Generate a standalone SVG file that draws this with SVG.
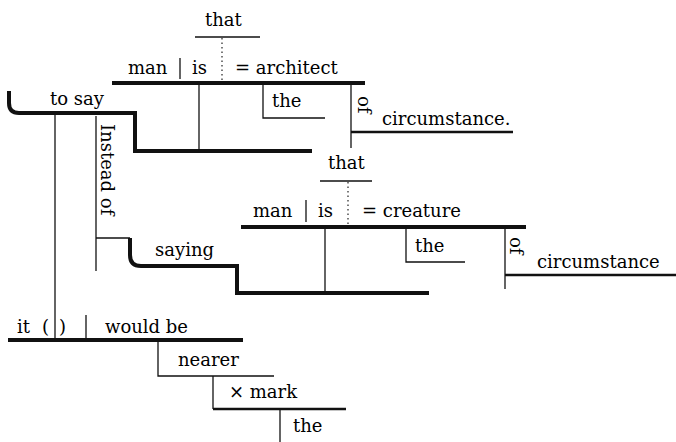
<svg xmlns="http://www.w3.org/2000/svg" width="676" height="442" viewBox="0 0 676 442">
<style>
text{font-family:"DejaVu Serif","Liberation Serif",serif;font-size:18px;fill:#000}
.thick{stroke:#111;stroke-width:4;fill:none}
.med{stroke:#111;stroke-width:2.5;fill:none}
.thin{stroke:#111;stroke-width:1.3;fill:none}
.dot{stroke:#222;stroke-width:1.2;stroke-dasharray:1.5 3;fill:none}
</style>
<rect width="676" height="442" fill="#fff"/>
<g id="clause1">
<text x="205" y="26">that</text>
<line class="thin" x1="195" y1="37" x2="260" y2="37"/>
<line class="dot" x1="222" y1="38" x2="222" y2="81"/>
<text x="128" y="74">man</text>
<line class="thin" x1="180" y1="58" x2="180" y2="79"/>
<text x="192" y="74">is</text>
<text x="235" y="74">= architect</text>
<line class="thick" x1="112" y1="83" x2="365" y2="83"/>
</g>
<g id="the1">
<text x="272" y="107">the</text>
<path class="thin" d="M263,85 V118 H325"/>
</g>
<g id="of1">
<text transform="translate(358,96) rotate(90)">of</text>
<text x="382" y="125">circumstance.</text>
<line class="med" x1="351" y1="132" x2="513" y2="132"/>
</g>
<g id="tosay">
<text x="50" y="105">to say</text>
<path class="thick" d="M9,91 V103 Q9,113 19,113 H135 V151 H312"/>
</g>
<g id="insteadof">
<text transform="translate(101,124) rotate(90)">Instead of</text>
</g>
<g id="saying">
<text x="155" y="256">saying</text>
<path class="thick" d="M130,238 V255 Q130,266 141,266 H237 V293 H429"/>
</g>
<g id="clause2">
<text x="328" y="169">that</text>
<line class="thin" x1="320" y1="181" x2="372" y2="181"/>
<line class="dot" x1="348" y1="182" x2="348" y2="225"/>
<text x="253" y="217">man</text>
<line class="thin" x1="306" y1="200" x2="306" y2="222"/>
<text x="318" y="217">is</text>
<text x="362" y="217">= creature</text>
<line class="thick" x1="241" y1="227" x2="526" y2="227"/>
</g>
<g id="the2">
<text x="415" y="252">the</text>
<path class="thin" d="M406,229 V262 H465"/>
</g>
<g id="of2">
<text transform="translate(510,237) rotate(90)">of</text>
<text x="537" y="268">circumstance</text>
<line class="med" x1="505" y1="275" x2="676" y2="275"/>
</g>
<g id="main">
<text x="17" y="333">it</text>
<text x="42" y="333">(</text>
<text x="59" y="333">)</text>
<line class="thin" x1="86" y1="315" x2="86" y2="340"/>
<text x="105" y="333">would be</text>
<line class="thick" x1="8" y1="340" x2="243" y2="340"/>
</g>
<g id="nearer">
<text x="178" y="366">nearer</text>
<path class="thin" d="M158,341 V376 H274"/>
</g>
<g id="mark">
<text x="229" y="398">× mark</text>
<line class="med" x1="213" y1="409" x2="346" y2="409"/>
</g>
<g id="the3">
<text x="293" y="432">the</text>
</g>
<g id="connectors">
<line class="thin" x1="199" y1="85" x2="199" y2="151"/>
<line class="thin" x1="351" y1="85" x2="351" y2="148"/>
<line class="thin" x1="55" y1="114" x2="55" y2="340"/>
<line class="thin" x1="96" y1="116" x2="96" y2="271"/>
<line class="thin" x1="96" y1="238" x2="130" y2="238"/>
<line class="thin" x1="325" y1="229" x2="325" y2="293"/>
<line class="thin" x1="505" y1="229" x2="505" y2="289"/>
<line class="thin" x1="213" y1="376" x2="213" y2="409"/>
<line class="thin" x1="280" y1="410" x2="280" y2="442"/>
</g>
</svg>
